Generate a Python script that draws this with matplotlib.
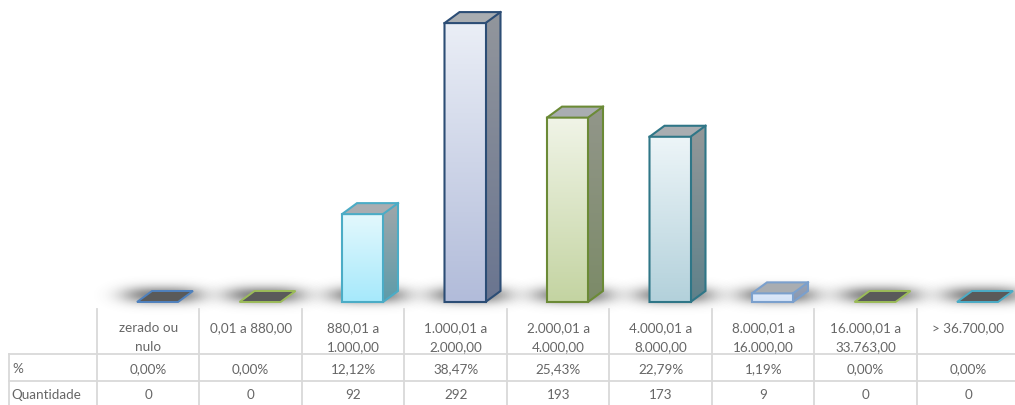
import numpy as np
import matplotlib.pyplot as plt
from matplotlib.patches import Polygon
from matplotlib.colors import to_rgb

categorias = ['zerado ou\nnulo', '0,01 a 880,00', '880,01 a\n1.000,00', '1.000,01 a\n2.000,00',
              '2.000,01 a\n4.000,00', '4.000,01 a\n8.000,00', '8.000,01 a\n16.000,00',
              '16.000,01 a\n33.763,00', '> 36.700,00']
percentual = [0.00, 0.00, 12.12, 38.47, 25.43, 22.79, 1.19, 0.00, 0.00]
quantidade = [0, 0, 92, 292, 193, 173, 9, 0, 0]

# estilo de cada barra: borda, frente (cima, baixo), lateral (cima, baixo)
bordas = ['#4f81bd', '#9bbb59', '#4bacc6', '#2c4d75', '#6b8a36', '#2f7687', '#7ba0cd', '#9bbb59', '#4bacc6']
frentes = [None, None, ('#e3f8fd', '#a6e9fb'), ('#eaeef6', '#b2bcda'), ('#f0f4e7', '#c4d4a2'),
           ('#edf5f8', '#b3d1db'), ('#dde9fa', '#d3e3f8'), None, None]
laterais = [None, None, ('#a0a6a9', '#5d9caa'), ('#92969c', '#6a7590'), ('#92968a', '#7c8b68'),
            ('#949899', '#5f818a'), ('#9aa3b3', '#8896b0'), None, None]
cor_texto = '#666666'
cor_grade = '#d9d9d9'

plt.rcParams['font.family'] = ['Lato', 'DejaVu Sans']

W, H = 1015, 406
fig = plt.figure(figsize=(W / 100, H / 100), dpi=100)

# eixo das barras: x = indice da categoria, y = percentual
ax = fig.add_axes([0, 0, 1, 1])
px_x = 102.5          # pixels por categoria
px_y = 7.25           # pixels por ponto percentual
x_orig, y_chao = 157.5, 303
xlim = (-x_orig / px_x, (W - x_orig) / px_x)
ylim = (-(H - y_chao) / px_y, y_chao / px_y)

larg = 0.4
dx, dy = 15 / px_x, 11 / px_y


def gradiente(c1, c2, n=64):
    a, b = np.array(to_rgb(c1)), np.array(to_rgb(c2))
    t = np.linspace(0, 1, n)[:, None]
    return (a * (1 - t) + b * t)[:, None, :]


def sombra(xc):
    gx = np.linspace(-3, 3, 160)
    gy = np.linspace(-3, 3, 60)
    X, Y = np.meshgrid(gx, gy)
    a = np.exp(-np.abs(X / 1.7) ** 3 - np.abs(Y / 1.2) ** 2)
    img = np.zeros((60, 160, 4))
    img[..., :3] = 0.3
    img[..., 3] = 0.7 * a
    sx, sy = 0.23, 1.0
    yc = 0.9
    ax.imshow(img, extent=[xc - 3 * sx, xc + 3 * sx, yc - 3 * sy, yc + 3 * sy],
              aspect='auto', interpolation='bilinear', zorder=1)


for i, p in enumerate(percentual):
    xc = i
    x0, x1 = xc - larg / 2, xc + larg / 2
    sombra(xc + 0.05)
    ed = bordas[i]
    topo = [(x0, p), (x1, p), (x1 + dx, p + dy), (x0 + dx, p + dy)]
    if p == 0:
        ax.add_patch(Polygon(topo, closed=True, facecolor='#5a5a5a', edgecolor=ed,
                             lw=1.4, joinstyle='miter', zorder=3))
        continue
    # frente
    ax.imshow(gradiente(*frentes[i]), extent=[x0, x1, 0, p], aspect='auto',
              interpolation='bilinear', zorder=2)
    # lateral
    lat = Polygon([(x1, 0), (x1 + dx, dy), (x1 + dx, p + dy), (x1, p)], closed=True,
                  facecolor='none', edgecolor='none')
    ax.add_patch(lat)
    im = ax.imshow(gradiente(*laterais[i]), extent=[x1, x1 + dx, 0, p + dy], aspect='auto',
                   interpolation='bilinear', zorder=2)
    im.set_clip_path(lat)
    ax.add_patch(Polygon(topo, closed=True, facecolor='#a9adb1', edgecolor='none', zorder=2))
    # contornos
    contorno = [(x0, 0), (x1, 0), (x1 + dx, dy), (x1 + dx, p + dy), (x0 + dx, p + dy), (x0, p)]
    ax.add_patch(Polygon(contorno, closed=True, facecolor='none', edgecolor=ed,
                         lw=1.5, joinstyle='miter', zorder=3))
    ax.plot([x0, x1, x1 + dx], [p, p, p + dy], color=ed, lw=1.5, zorder=3)
    ax.plot([x1, x1], [0, p], color=ed, lw=1.5, zorder=3)

ax.set_xlim(*xlim)
ax.set_ylim(*ylim)
ax.axis('off')

# tabela de dados (coordenadas em pixels)
tb = fig.add_axes([0, 0, 1, 1], facecolor='none')
tb.set_xlim(0, W)
tb.set_ylim(H, 0)
tb.axis('off')

col0, colw = 97, 102.5
for k in range(len(categorias) + 1):
    xk = col0 + k * colw
    tb.plot([xk, xk], [310, H], color=cor_grade, lw=1.3)
tb.plot([9, 9], [355, H], color=cor_grade, lw=1.3)
for yk in [355, 382]:
    tb.plot([9, W], [yk, yk], color=cor_grade, lw=1.3)

fs = 9.7
for i, cat in enumerate(categorias):
    xc = col0 + (i + 0.5) * colw
    for j, linha in enumerate(cat.split('\n')):
        tb.text(xc, 328 + 19 * j, linha, ha='center', va='center', fontsize=fs, color=cor_texto)
    tb.text(xc, 369, f'{percentual[i]:.2f}'.replace('.', ',') + '%', ha='center', va='center',
            fontsize=fs, color=cor_texto)
    tb.text(xc, 395, str(quantidade[i]), ha='center', va='center', fontsize=fs, color=cor_texto)

tb.text(12, 369, '%', ha='left', va='center', fontsize=fs, color=cor_texto)
tb.text(11, 395, 'Quantidade', ha='left', va='center', fontsize=fs, color=cor_texto)

fig.savefig('out.png', dpi=100)
